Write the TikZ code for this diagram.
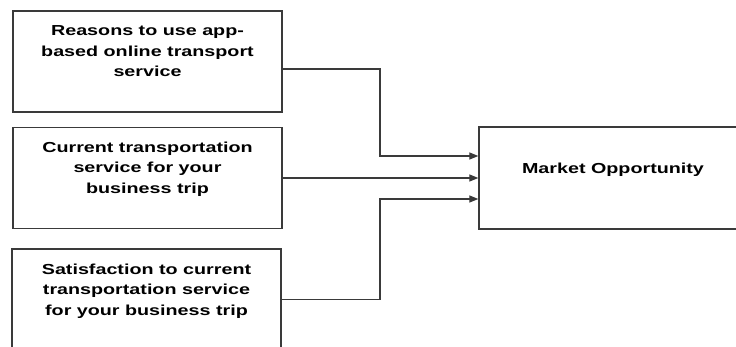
\documentclass[tikz,border=0pt]{standalone}
\usepackage{fontspec}
\setmainfont{Liberation Sans}[FakeStretch=1.36]
\usetikzlibrary{arrows.meta}
\definecolor{edge}{HTML}{3A3A3A}
\tikzset{
  box/.style={draw=edge, line width=1.3pt, inner sep=0pt, fill=white},
  conn/.style={draw=edge, line width=1.2pt},
  arr/.style={conn, -{Triangle[length=9pt,width=7pt]}}
}
\newcommand{\boxtext}[4]{\parbox[b][#2pt][t]{#1pt}{\centering\fontsize{14.5pt}{20.5pt}\selectfont\bfseries\rule{0pt}{#3pt}#4}}
\begin{document}
\begin{tikzpicture}[x=1pt,y=-1pt]
\useasboundingbox (0,0) rectangle (736,347);
\clip (0,0) rectangle (736,347);
\node[box] (b1) at (147.5,61.5) {\boxtext{269}{101}{25}{Reasons to use app-\\based online transport\\service}};
\node[box] (b2) at (147.5,178) {\boxtext{269}{101}{25}{Current transportation\\service for your\\business trip}};
\node[box] (b3) at (146.5,299.5) {\boxtext{269}{101}{25}{Satisfaction to current\\transportation service\\for your business trip}};
\node[box] (m) at (613,178) {\boxtext{268}{102}{47}{Market Opportunity}};
\coordinate (jx) at (380,0);
\coordinate (m1) at ([yshift=22pt]m.west);
\coordinate (m3) at ([yshift=-21pt]m.west);
\draw[arr] ([yshift=-7.5pt]b1.east) -| (jx |- m1) -- (m1);
\draw[arr] (b2.east) -- (m.west);
\draw[arr] (b3.east) -| (jx |- m3) -- (m3);
\end{tikzpicture}
\end{document}
